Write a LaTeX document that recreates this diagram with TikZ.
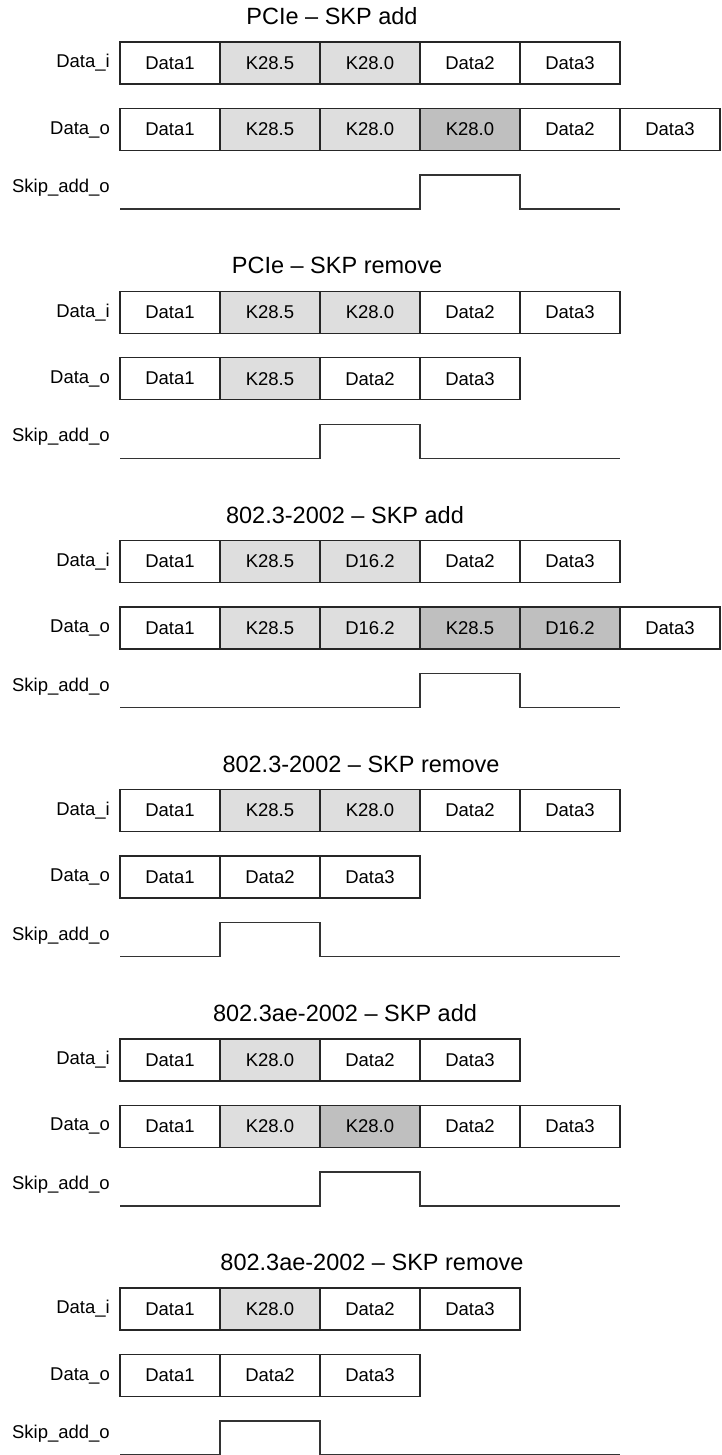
\documentclass[tikz,border=0pt]{standalone}
\usepackage{fontspec}
\setmainfont{Liberation Sans}
\usetikzlibrary{positioning}

\tikzset{
  cell/.style={draw=black!85, line width=1.4pt, fill=white,
    minimum width=100pt, minimum height=42pt, inner sep=0pt, outer sep=0pt,
    font=\fontsize{18.5}{21}\selectfont},
  lite/.style={fill=black!13},
  dark/.style={fill=black!25},
  lbl/.style={inner sep=0pt, font=\fontsize{18.5}{21}\selectfont},
  ttl/.style={inner sep=0pt, font=\fontsize{23.5}{27}\selectfont},
  wave/.style={draw=black!80, line width=1.4pt}
}

\begin{document}
\begin{tikzpicture}[x=1pt, y=-1pt]
	\useasboundingbox (0,0) rectangle (722,1455);

	%PCIe add
	\begin{scope}
		\node[ttl] (t1) at (332,16.5){PCIe -- SKP add};
		\node[cell] (a1) at (170,63){Data1};
		\node[cell, lite, right=0pt of a1] (a2){K28.5};
		\node[cell, lite, right=0pt of a2] (a3){K28.0};
		\node[cell, right=0pt of a3] (a4){Data2};
		\node[cell, right=0pt of a4] (a5){Data3};
		\node[cell] (b1) at (170,129.5){Data1};
		\node[cell, lite, right=0pt of b1] (b2){K28.5};
		\node[cell, lite, right=0pt of b2] (b3){K28.0};
		\node[cell, dark, right=0pt of b3] (b4){K28.0};
		\node[cell, right=0pt of b4] (b5){Data2};
		\node[cell, right=0pt of b5] (b6){Data3};
		\node[lbl, left=10pt of a1] (la1){Data\_i};
		\node[lbl, left=10pt of b1] (lb1){Data\_o};
		\node[lbl, anchor=east] (lc1) at (110,188){Skip\_add\_o};
		\draw[wave] (120,209) -- (420,209) -- (420,175) -- (520,175) -- (520,209) -- (620,209);
	\end{scope}

	%PCIe remove
	\begin{scope}[yshift=-249.2pt]
		\node[ttl] (t2) at (337,16.5){PCIe -- SKP remove};
		\node[cell] (c1) at (170,63){Data1};
		\node[cell, lite, right=0pt of c1] (c2){K28.5};
		\node[cell, lite, right=0pt of c2] (c3){K28.0};
		\node[cell, right=0pt of c3] (c4){Data2};
		\node[cell, right=0pt of c4] (c5){Data3};
		\node[cell] (d1) at (170,129.5){Data1};
		\node[cell, lite, right=0pt of d1] (d2){K28.5};
		\node[cell, right=0pt of d2] (d3){Data2};
		\node[cell, right=0pt of d3] (d4){Data3};
		\node[lbl, left=10pt of c1] (lc2){Data\_i};
		\node[lbl, left=10pt of d1] (ld2){Data\_o};
		\node[lbl, anchor=east] (le2) at (110,188){Skip\_add\_o};
		\draw[wave] (120,209) -- (320,209) -- (320,175) -- (420,175) -- (420,209) -- (620,209);
	\end{scope}

	%802.3 add
	\begin{scope}[yshift=-498.4pt]
		\node[ttl] (t3) at (345,16.5){802.3-2002 -- SKP add};
		\node[cell] (e1) at (170,63){Data1};
		\node[cell, lite, right=0pt of e1] (e2){K28.5};
		\node[cell, lite, right=0pt of e2] (e3){D16.2};
		\node[cell, right=0pt of e3] (e4){Data2};
		\node[cell, right=0pt of e4] (e5){Data3};
		\node[cell] (f1) at (170,129.5){Data1};
		\node[cell, lite, right=0pt of f1] (f2){K28.5};
		\node[cell, lite, right=0pt of f2] (f3){D16.2};
		\node[cell, dark, right=0pt of f3] (f4){K28.5};
		\node[cell, dark, right=0pt of f4] (f5){D16.2};
		\node[cell, right=0pt of f5] (f6){Data3};
		\node[lbl, left=10pt of e1] (le3){Data\_i};
		\node[lbl, left=10pt of f1] (lf3){Data\_o};
		\node[lbl, anchor=east] (lg3) at (110,188){Skip\_add\_o};
		\draw[wave] (120,209) -- (420,209) -- (420,175) -- (520,175) -- (520,209) -- (620,209);
	\end{scope}

	%802.3 remove
	\begin{scope}[yshift=-747.6pt]
		\node[ttl] (t4) at (361,16.5){802.3-2002 -- SKP remove};
		\node[cell] (g1) at (170,63){Data1};
		\node[cell, lite, right=0pt of g1] (g2){K28.5};
		\node[cell, lite, right=0pt of g2] (g3){K28.0};
		\node[cell, right=0pt of g3] (g4){Data2};
		\node[cell, right=0pt of g4] (g5){Data3};
		\node[cell] (h1) at (170,129.5){Data1};
		\node[cell, right=0pt of h1] (h2){Data2};
		\node[cell, right=0pt of h2] (h3){Data3};
		\node[lbl, left=10pt of g1] (lg4){Data\_i};
		\node[lbl, left=10pt of h1] (lh4){Data\_o};
		\node[lbl, anchor=east] (lk4) at (110,188){Skip\_add\_o};
		\draw[wave] (120,209) -- (220,209) -- (220,175) -- (320,175) -- (320,209) -- (620,209);
	\end{scope}

	%802.3ae add
	\begin{scope}[yshift=-996.8pt]
		\node[ttl] (t5) at (345,16.5){802.3ae-2002 -- SKP add};
		\node[cell] (m1) at (170,63){Data1};
		\node[cell, lite, right=0pt of m1] (m2){K28.0};
		\node[cell, right=0pt of m2] (m3){Data2};
		\node[cell, right=0pt of m3] (m4){Data3};
		\node[cell] (n1) at (170,129.5){Data1};
		\node[cell, lite, right=0pt of n1] (n2){K28.0};
		\node[cell, dark, right=0pt of n2] (n3){K28.0};
		\node[cell, right=0pt of n3] (n4){Data2};
		\node[cell, right=0pt of n4] (n5){Data3};
		\node[lbl, left=10pt of m1] (lm5){Data\_i};
		\node[lbl, left=10pt of n1] (ln5){Data\_o};
		\node[lbl, anchor=east] (lp5) at (110,188){Skip\_add\_o};
		\draw[wave] (120,209) -- (320,209) -- (320,175) -- (420,175) -- (420,209) -- (620,209);
	\end{scope}

	%802.3ae remove
	\begin{scope}[yshift=-1246pt]
		\node[ttl] (t6) at (372,16.5){802.3ae-2002 -- SKP remove};
		\node[cell] (p1) at (170,63){Data1};
		\node[cell, lite, right=0pt of p1] (p2){K28.0};
		\node[cell, right=0pt of p2] (p3){Data2};
		\node[cell, right=0pt of p3] (p4){Data3};
		\node[cell] (q1) at (170,129.5){Data1};
		\node[cell, right=0pt of q1] (q2){Data2};
		\node[cell, right=0pt of q2] (q3){Data3};
		\node[lbl, left=10pt of p1] (lp6){Data\_i};
		\node[lbl, left=10pt of q1] (lq6){Data\_o};
		\node[lbl, anchor=east] (lr6) at (110,188){Skip\_add\_o};
		\draw[wave] (120,208.3) -- (220,208.3) -- (220,175) -- (320,175) -- (320,208.3) -- (620,208.3);
	\end{scope}
\end{tikzpicture}
\end{document}
